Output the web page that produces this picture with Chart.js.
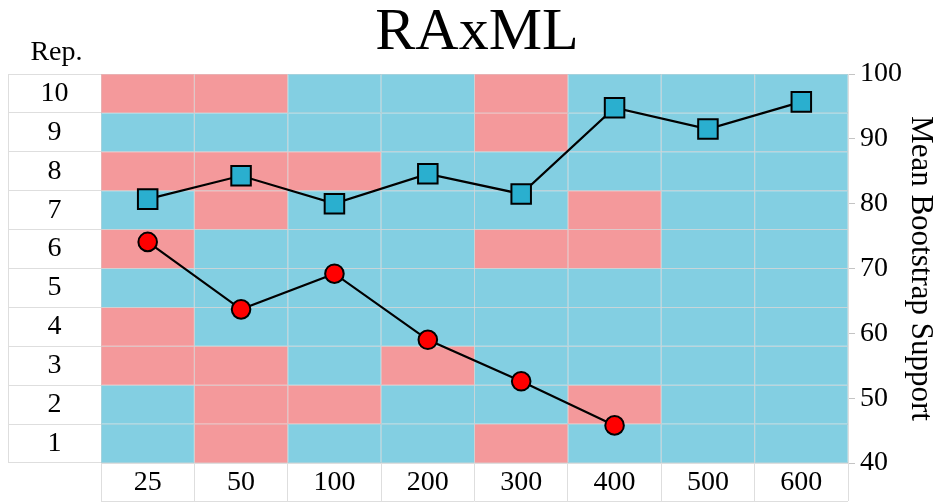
<!DOCTYPE html>
<html>
<head>
<meta charset="utf-8">
<script src="https://cdn.jsdelivr.net/npm/chart.js@4/dist/chart.umd.min.js"></script>
<style>
  html, body { margin: 0; padding: 0; background: #ffffff; }
  #wrap { width: 946px; height: 502px; }
</style>
</head>
<body>
<div id="wrap"><canvas id="c" width="946" height="502"></canvas></div>
<script>
// Alignment sizes (columns) and replicate labels (rows, top to bottom)
const sizes = ['25', '50', '100', '200', '300', '400', '500', '600'];
const repLabels = ['10', '9', '8', '7', '6', '5', '4', '3', '2', '1'];

// Per-replicate outcome for each size: 1 = pink cell, 0 = blue cell
const rep1  = [0, 1, 0, 0, 1, 0, 0, 0];
const rep2  = [0, 1, 1, 0, 0, 1, 0, 0];
const rep3  = [1, 1, 0, 1, 0, 0, 0, 0];
const rep4  = [1, 0, 0, 0, 0, 0, 0, 0];
const rep5  = [0, 0, 0, 0, 0, 0, 0, 0];
const rep6  = [1, 0, 0, 0, 1, 1, 0, 0];
const rep7  = [0, 1, 0, 0, 0, 1, 0, 0];
const rep8  = [1, 1, 1, 0, 0, 0, 0, 0];
const rep9  = [0, 0, 0, 0, 1, 0, 0, 0];
const rep10 = [1, 1, 0, 0, 1, 0, 0, 0];
const repRows = [rep1, rep2, rep3, rep4, rep5, rep6, rep7, rep8, rep9, rep10];

// Mean bootstrap support (right axis)
const supportBlue = [80.7, 84.3, 80.0, 84.6, 81.5, 94.8, 91.5, 95.7];
const supportRed  = [74.1, 63.7, 69.2, 59.0, 52.6, 45.8, null, null];

const PINK = '#f4999b';
const BLUE = '#83cfe2';
// cell edge tints: the cell colour washed with light grey
const PINK_EDGE = '#dbb4b5';
const BLUE_EDGE = '#adcbd3';
const GRID = '#dedede';
const SERIF = "'Liberation Serif', 'Times New Roman', serif";

// One floating-bar dataset per replicate: the cell spans [rep-1, rep]
const cellSets = repRows.map((row, i) => ({
  type: 'bar',
  label: 'Rep ' + (i + 1),
  data: sizes.map(() => [i, i + 1]),
  backgroundColor: row.map(v => (v ? PINK : BLUE)),
  borderColor: row.map(v => (v ? PINK_EDGE : BLUE_EDGE)),
  borderWidth: 0.5,
  borderSkipped: false,
  inflateAmount: 0,
  grouped: false,
  barPercentage: 1,
  categoryPercentage: 1,
  xAxisID: 'x',
  yAxisID: 'y',
  order: 2
}));

// Outer table borders and the "Rep." header above the row labels
const tableFrame = {
  id: 'tableFrame',
  afterDraw(chart) {
    const ctx = chart.ctx;
    const rep = chart.scales.yRep;
    const x = chart.scales.x;
    ctx.save();
    ctx.strokeStyle = GRID;
    ctx.lineWidth = 1;
    ctx.beginPath();
    ctx.moveTo(Math.round(rep.left) + 0.5, rep.top);
    ctx.lineTo(Math.round(rep.left) + 0.5, rep.bottom);
    ctx.moveTo(x.left, Math.round(x.bottom) - 0.5);
    ctx.lineTo(x.right, Math.round(x.bottom) - 0.5);
    ctx.stroke();
    ctx.fillStyle = '#000';
    ctx.font = '28px ' + SERIF;
    ctx.textAlign = 'center';
    ctx.textBaseline = 'alphabetic';
    ctx.fillText('Rep.', (rep.left + rep.right) / 2 + 2, rep.top - 14);
    ctx.restore();
  }
};

new Chart(document.getElementById('c'), {
  data: {
    labels: sizes,
    datasets: [
      {
        type: 'line',
        label: 'Blue',
        data: supportBlue,
        yAxisID: 'y2',
        borderColor: '#000',
        borderWidth: 2.2,
        pointStyle: 'rect',
        pointRadius: 13.8,
        pointBackgroundColor: '#2aafcf',
        pointBorderColor: '#000',
        pointBorderWidth: 2,
        order: 0
      },
      {
        type: 'line',
        label: 'Red',
        data: supportRed,
        yAxisID: 'y2',
        borderColor: '#000',
        borderWidth: 2.2,
        pointStyle: 'circle',
        pointRadius: 9.3,
        pointBackgroundColor: '#ff0000',
        pointBorderColor: '#000',
        pointBorderWidth: 2,
        order: 1
      },
      ...cellSets
    ]
  },
  options: {
    responsive: false,
    devicePixelRatio: 1,
    animation: false,
    layout: { padding: { left: 8, right: 0, top: 0, bottom: 0 } },
    plugins: {
      legend: { display: false },
      tooltip: { enabled: false },
      title: {
        display: true,
        text: 'RAxML',
        color: '#000',
        font: { family: SERIF, size: 60, weight: 'normal', lineHeight: 1.1 },
        padding: { top: 0, bottom: 8 }
      }
    },
    scales: {
      x: {
        type: 'category',
        position: 'bottom',
        offset: true,
        grid: { offset: true, color: GRID, tickLength: 38, drawTicks: true },
        border: { color: GRID },
        ticks: { color: '#000', font: { family: SERIF, size: 28 }, padding: -35 },
        afterFit(s) { s.height = 39; }
      },
      y: {
        type: 'linear',
        min: 0,
        max: 10,
        display: false
      },
      yRep: {
        type: 'category',
        labels: repLabels,
        position: 'left',
        offset: true,
        grid: { offset: true, color: GRID, tickLength: 93 },
        border: { color: GRID },
        ticks: { color: '#000', font: { family: SERIF, size: 28 }, crossAlign: 'center', padding: -60.5 },
        afterFit(s) { s.width = 93; }
      },
      y2: {
        type: 'linear',
        position: 'right',
        min: 40,
        max: 100,
        ticks: { stepSize: 10, color: '#000', font: { family: SERIF, size: 28 }, padding: 5 },
        grid: { drawOnChartArea: false, color: '#c4c4c4', tickLength: 7 },
        border: { color: GRID },
        title: {
          display: true,
          text: 'Mean Bootstrap Support',
          color: '#000',
          font: { family: SERIF, size: 31 },
          padding: { top: 7, bottom: 0 }
        },
        afterFit(s) { s.width = 98; }
      }
    }
  },
  plugins: [tableFrame]
});
</script>
</body>
</html>
